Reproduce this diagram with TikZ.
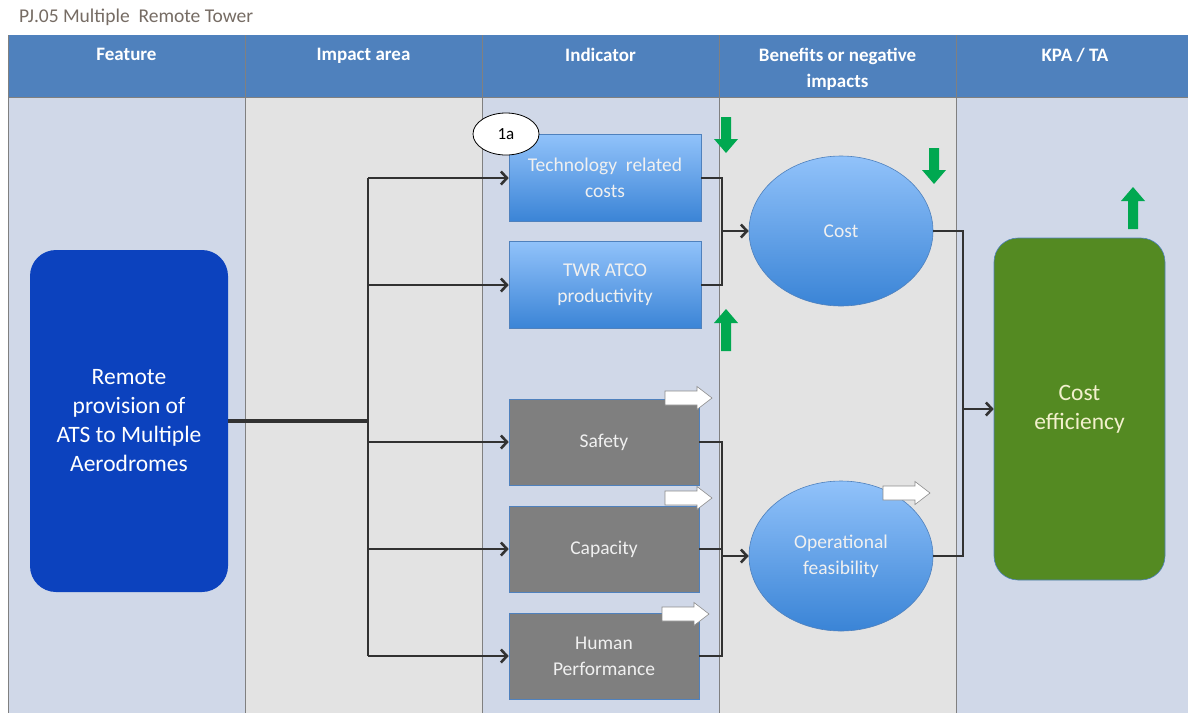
\documentclass[tikz,border=0pt]{standalone}
\usepackage{fontspec}
\setmainfont{Carlito}
\usetikzlibrary{arrows.meta,shapes.geometric}
\definecolor{hdr}{RGB}{79,129,189}
\definecolor{lblue}{RGB}{208,216,232}
\definecolor{lgray}{RGB}{227,227,227}
\definecolor{remotec}{RGB}{12,66,190}
\definecolor{gtop}{RGB}{145,194,250}
\definecolor{gbot}{RGB}{58,132,214}
\definecolor{bordc}{RGB}{79,129,189}
\definecolor{boxgray}{RGB}{127,127,127}
\definecolor{kpac}{RGB}{84,138,34}
\definecolor{garrow}{RGB}{0,168,80}
\definecolor{connc}{RGB}{50,50,50}
\definecolor{titlec}{RGB}{118,108,100}
\definecolor{colline}{RGB}{128,128,128}
\definecolor{creamtxt}{RGB}{242,240,205}
\tikzset{
  hdrtext/.style={anchor=north, inner sep=0pt, text=white, align=center,
    font=\bfseries\fontsize{19}{26}\selectfont},
  lbl/.style={font=\fontsize{19.5}{26}\selectfont, text=white!94!black, align=center},
  bluebox/.style={lbl, rectangle, draw=bordc, line width=0.6pt, top color=gtop, bottom color=gbot,
    minimum width=192pt, minimum height=87pt, inner sep=0pt},
  graybox/.style={lbl, rectangle, draw=bordc, line width=0.6pt, fill=boxgray,
    minimum width=190pt, minimum height=86pt, inner sep=0pt},
  blueell/.style={lbl, ellipse, draw=bordc, line width=0.6pt, top color=gtop, bottom color=gbot,
    minimum width=184pt, minimum height=150pt, inner sep=0pt},
  bigrect/.style={rectangle, rounded corners=26pt, inner sep=0pt, align=center,
    font=\fontsize{23.5}{29}\selectfont},
  conn/.style={draw=connc, line width=2.8pt},
  arr/.style={conn, -{Straight Barb[length=6pt,width=13pt,line width=2.6pt]}},
  gdown/.pic={\fill[garrow] (-5,-18) -- (5,-18) -- (5,4) -- (12,4) -- (0,18) -- (-12,4) -- (-5,4) -- cycle;},
  gup/.pic={\fill[garrow] (-5,21) -- (5,21) -- (5,-7) -- (12,-7) -- (0,-21) -- (-12,-7) -- (-5,-7) -- cycle;},
  wright/.pic={\filldraw[fill=white, draw=black!45, line width=0.6pt]
     (-23,-7) -- (9,-7) -- (9,-11.5) -- (24,0) -- (9,11.5) -- (9,7) -- (-23,7) -- cycle;}
}
\begin{document}
\begin{tikzpicture}[x=1pt,y=-1pt]
\useasboundingbox (0,0) rectangle (1188,713);
\fill[white] (0,0) rectangle (1188,713);
\node[anchor=west, inner sep=0pt, text=titlec, font=\fontsize{19.5}{24}\selectfont] (title) at (19,17) {PJ.05 Multiple\ \ Remote Tower};
% column bodies
\fill[lblue] (8,97) rectangle (245,713);
\fill[lgray] (245,97) rectangle (482,713);
\fill[lblue] (482,97) rectangle (719,713);
\fill[lgray] (719,97) rectangle (956,713);
\fill[lblue] (956,97) rectangle (1188,713);
% header
\fill[hdr] (8,35) rectangle (1188,97);
\draw[colline, line width=0.8pt] (8,35) -- (8,713) (245,35) -- (245,713) (482,35) -- (482,713)
  (719,35) -- (719,713) (956,35) -- (956,713) (8,97) -- (1188,97);
\node[hdrtext] (h1) at (126.5,48) {Feature};
\node[hdrtext] (h2) at (363.5,48) {Impact area};
\node[hdrtext] (h3) at (600.5,48) {Indicator};
\node[hdrtext] (h4) at (837.5,48) {Benefits or negative\\impacts};
\node[hdrtext] (h5) at (1075,48) {KPA / TA};
% main nodes
\node[bigrect, fill=remotec, text=white, minimum width=198pt, minimum height=342pt] (remote) at (129,421)
  {Remote\\provision of\\ATS to Multiple\\Aerodromes};
\node[bluebox] (tech) at (605,178) {Technology\ \ related\\costs};
\node[bluebox] (twr) at (605,285) {TWR ATCO\\productivity};
\node[graybox] (safety) at (604,442) {Safety};
\node[graybox] (capacity) at (604,549) {Capacity};
\node[graybox] (human) at (604,656) {Human\\Performance};
\node[blueell] (cost) at (841,231) {Cost};
\node[blueell] (opf) at (841,556) {Operational\\feasibility};
\node[bigrect, rounded corners=24pt, fill=kpac, draw=bordc, line width=0.6pt, text=creamtxt,
  minimum width=171pt, minimum height=342pt] (kpa) at (1079.5,409) {Cost\\efficiency};
\node[ellipse, draw=black, line width=0.8pt, fill=white, minimum width=66pt, minimum height=42pt,
  inner sep=0pt, font=\fontsize{17}{19}\selectfont] (onea) at (506,134) {1a};
% connectors
\coordinate (trunk) at (368,421);
\coordinate (j1) at (722,0);
\coordinate (j2) at (963,0);
\draw[conn, line width=4.5pt] (remote.east) -- (trunk);
\draw[conn] (trunk |- tech.west) -- (trunk |- human.west);
\draw[arr] (trunk |- tech.west) -- (tech.west);
\draw[arr] (trunk |- twr.west) -- (twr.west);
\draw[arr] (trunk |- safety.west) -- (safety.west);
\draw[arr] (trunk |- capacity.west) -- (capacity.west);
\draw[arr] (trunk |- human.west) -- (human.west);
\draw[conn] (tech.east) -| (j1 |- twr.east) -- (twr.east);
\draw[arr] (j1 |- cost.west) -- (cost.west);
\draw[conn] (safety.east) -| (j1 |- human.east) -- (human.east);
\draw[conn] (capacity.east) -- (j1 |- capacity.east);
\draw[arr] (j1 |- opf.west) -- (opf.west);
\draw[conn] (cost.east) -| (j2 |- opf.east) -- (opf.east);
\draw[arr] (j2 |- kpa.west) -- (kpa.west);
% indicator arrows
\pic at (726,135) {gdown};
\pic at (726,330) {gup};
\pic at (934,166) {gdown};
\pic at (1133,208) {gup};
\pic at (688,398) {wright};
\pic at (688,498) {wright};
\pic at (685,614) {wright};
\pic at (906,493) {wright};
\end{tikzpicture}
\end{document}
